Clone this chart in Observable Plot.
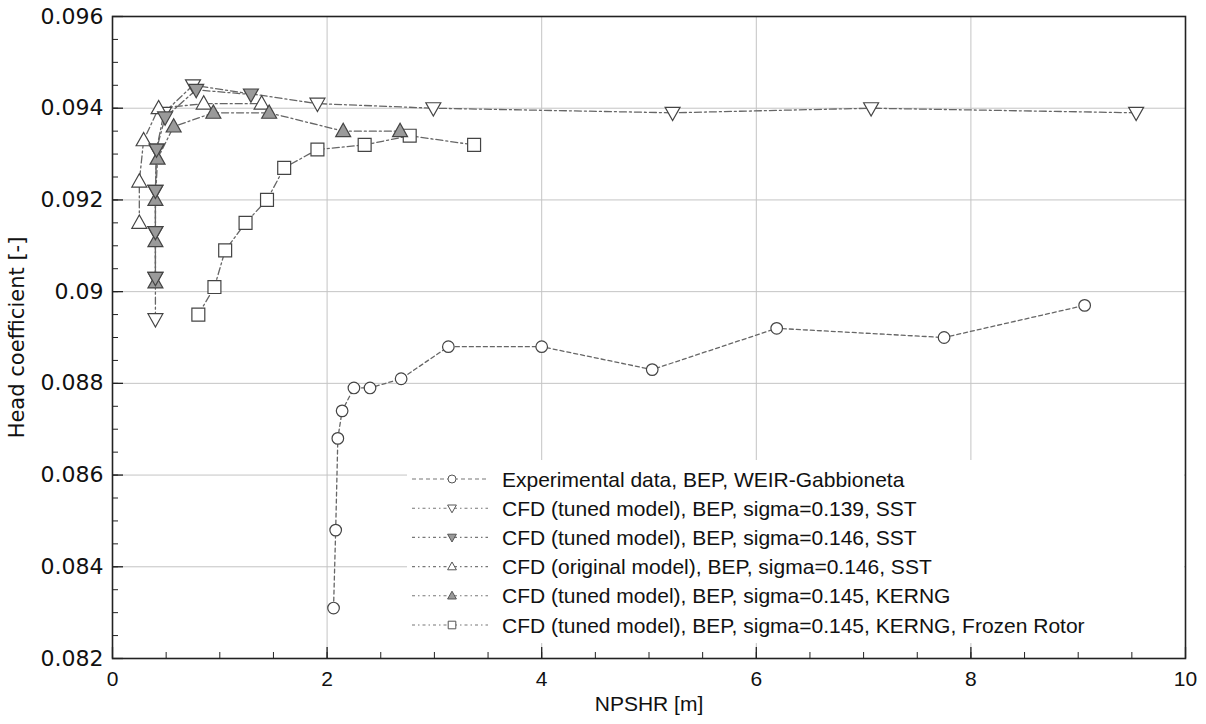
<!DOCTYPE html>
<html>
<head>
<meta charset="utf-8">
<script src="https://cdn.jsdelivr.net/npm/d3@7"></script>
<script src="https://cdn.jsdelivr.net/npm/@observablehq/plot@0.6"></script>
<style>
  html, body { margin: 0; padding: 0; background: #fff; }
  #chart { position: relative; width: 1206px; height: 724px; }
</style>
</head>
<body>
<div id="chart"></div>
<script>
// ---- data ----
const seriesNames = [
  "Experimental data, BEP, WEIR-Gabbioneta",
  "CFD (tuned model), BEP, sigma=0.139, SST",
  "CFD (tuned model), BEP, sigma=0.146, SST",
  "CFD (original model), BEP, sigma=0.146, SST",
  "CFD (tuned model), BEP, sigma=0.145, KERNG",
  "CFD (tuned model), BEP, sigma=0.145, KERNG, Frozen Rotor"
];
const expX = [2.06, 2.08, 2.10, 2.14, 2.25, 2.40, 2.69, 3.13, 4.00, 5.03, 6.19, 7.75, 9.06];
const expY = [0.0831, 0.0848, 0.0868, 0.0874, 0.0879, 0.0879, 0.0881, 0.0888, 0.0888, 0.0883, 0.0892, 0.0890, 0.0897];
const sst139X = [0.40, 0.40, 0.40, 0.40, 0.41, 0.48, 0.75, 1.91, 2.99, 5.22, 7.07, 9.54];
const sst139Y = [0.0894, 0.0903, 0.0913, 0.0922, 0.0931, 0.0939, 0.0945, 0.0941, 0.0940, 0.0939, 0.0940, 0.0939];
const sst146X = [0.40, 0.40, 0.40, 0.41, 0.49, 0.78, 1.29];
const sst146Y = [0.0903, 0.0913, 0.0922, 0.0931, 0.0938, 0.0944, 0.0943];
const origX = [0.25, 0.25, 0.29, 0.43, 0.85, 1.39];
const origY = [0.0915, 0.0924, 0.0933, 0.0940, 0.0941, 0.0941];
const kerngX = [0.40, 0.40, 0.40, 0.42, 0.57, 0.94, 1.46, 2.15, 2.68];
const kerngY = [0.0902, 0.0911, 0.0920, 0.0929, 0.0936, 0.0939, 0.0939, 0.0935, 0.0935];
const frozenX = [0.80, 0.95, 1.05, 1.24, 1.44, 1.60, 1.91, 2.35, 2.77, 3.37];
const frozenY = [0.0895, 0.0901, 0.0909, 0.0915, 0.0920, 0.0927, 0.0931, 0.0932, 0.0934, 0.0932];
const xTicks = [0, 2, 4, 6, 8, 10];
const xTickLabels = ["0", "2", "4", "6", "8", "10"];
const yTicks = [0.082, 0.084, 0.086, 0.088, 0.090, 0.092, 0.094, 0.096];
const yTickLabels = ["0.082", "0.084", "0.086", "0.088", "0.09", "0.092", "0.094", "0.096"];
const xMinor = d3.range(0, 10.001, 0.5);
const yMinor = d3.range(0.082, 0.09601, 0.0005);
const xLabel = "NPSHR [m]";
const yLabel = "Head coefficient [-]";

// ---- symbols ----
const triDown = {draw(ctx, size) { const r = Math.sqrt(size / Math.PI);
  ctx.moveTo(-r * 1.1, -r * 0.8); ctx.lineTo(r * 1.1, -r * 0.8); ctx.lineTo(0, r * 1.15); ctx.closePath(); }};
const triUp = {draw(ctx, size) { const r = Math.sqrt(size / Math.PI);
  ctx.moveTo(-r * 1.1, r * 0.8); ctx.lineTo(r * 1.1, r * 0.8); ctx.lineTo(0, -r * 1.15); ctx.closePath(); }};
const sq = {draw(ctx, size) { const r = Math.sqrt(size / Math.PI); const h = r * 0.95;
  ctx.rect(-h, -h, 2 * h, 2 * h); }};
const circ = {draw(ctx, size) { const r = Math.sqrt(size / Math.PI);
  ctx.moveTo(r, 0); ctx.arc(0, 0, r, 0, 2 * Math.PI); }};

const DASH = "4,3";
const DASHDOT = "7,3,2,3";
const series = [
  {name: seriesNames[1], xs: sst139X, ys: sst139Y, symbol: triDown, fill: "white", dash: DASHDOT, r: 6.8},
  {name: seriesNames[3], xs: origX, ys: origY, symbol: triUp, fill: "white", dash: DASHDOT, r: 6.8},
  {name: seriesNames[5], xs: frozenX, ys: frozenY, symbol: sq, fill: "white", dash: DASHDOT, r: 6.8},
  {name: seriesNames[4], xs: kerngX, ys: kerngY, symbol: triUp, fill: "#9a9a9a", dash: DASHDOT, r: 6.8},
  {name: seriesNames[2], xs: sst146X, ys: sst146Y, symbol: triDown, fill: "#9a9a9a", dash: DASHDOT, r: 6.8},
  {name: seriesNames[0], xs: expX, ys: expY, symbol: circ, fill: "white", dash: DASH, r: 5.8}
];
const tables = series.map(s => s.xs.map((x, i) => ({x, y: s.ys[i]})));

const W = 1206, H = 724, mL = 112, mR = 21, mT = 16, mB = 66;
const plotH = H - mT - mB, plotW = W - mL - mR;

const marks = [
  Plot.gridX(xTicks, {stroke: "#c4c4c4", strokeOpacity: 1, strokeWidth: 1}),
  Plot.gridY(yTicks, {stroke: "#c4c4c4", strokeOpacity: 1, strokeWidth: 1}),
  Plot.ruleX(xMinor, {insetTop: plotH - 6, stroke: "#222", strokeWidth: 1}),
  Plot.ruleX(xTicks, {insetTop: plotH - 11, stroke: "#222", strokeWidth: 1.3}),
  Plot.ruleY(yMinor, {insetRight: plotW - 6, stroke: "#222", strokeWidth: 1}),
  Plot.ruleY(yTicks, {insetRight: plotW - 11, stroke: "#222", strokeWidth: 1.3}),
  Plot.axisX(xTicks, {tickSize: 0, tickPadding: 13, fontSize: 21, fontFamily: "Liberation Sans, Arial, sans-serif",
    tickFormat: d => xTickLabels[xTicks.indexOf(d)], label: null, color: "#111"}),
  Plot.axisY(yTicks, {tickSize: 0, tickPadding: 9, fontSize: 22, fontFamily: "DejaVu Sans, sans-serif",
    tickFormat: d => yTickLabels[yTicks.findIndex(t => Math.abs(t - d) < 1e-9)], label: null, color: "#111"}),
  Plot.text([xLabel], {frameAnchor: "bottom", dy: 52, fontSize: 21, fontFamily: "Liberation Sans, Arial, sans-serif", fill: "#111", textAnchor: "middle"}),
  Plot.text([yLabel], {frameAnchor: "left", dx: -95, rotate: -90, textAnchor: "middle", fontSize: 21, fontFamily: "DejaVu Sans, sans-serif", fill: "#111"})
];
series.forEach((s, i) => {
  marks.push(Plot.line(tables[i], {x: "x", y: "y", stroke: "#666", strokeWidth: 1.3, strokeDasharray: s.dash, curve: "linear"}));
});
series.forEach((s, i) => {
  marks.push(Plot.dot(tables[i], {x: "x", y: "y", symbol: s.symbol, r: s.r, fill: s.fill, stroke: "#444", strokeWidth: 1.2}));
});
marks.push(Plot.frame({stroke: "#222", strokeWidth: 1.6}));

const plot = Plot.plot({
  width: W, height: H, marginLeft: mL, marginRight: mR, marginTop: mT, marginBottom: mB,
  x: {domain: [0, 10]},
  y: {domain: [0.082, 0.096]},
  style: {background: "white", overflow: "visible"},
  marks
});
document.getElementById("chart").appendChild(plot);

// ---- legend (inside the plot, lower right) ----
const svg = d3.select(plot);
const legStyle = [
  {symbol: circ, fill: "white", dash: "4,3"},
  {symbol: triDown, fill: "white", dash: "3,3,1.5,3"},
  {symbol: triDown, fill: "#9a9a9a", dash: "3,3,1.5,3"},
  {symbol: triUp, fill: "white", dash: "3,3,1.5,3"},
  {symbol: triUp, fill: "#9a9a9a", dash: "3,3,1.5,3"},
  {symbol: sq, fill: "white", dash: "3,3,1.5,3"}
];
const lg = svg.append("g").attr("text-anchor", "start");
lg.append("rect").attr("x", 407).attr("y", 460).attr("width", 1184 - 407).attr("height", 183).attr("fill", "white");
const row0 = 479, rowH = 29.2;
seriesNames.forEach((name, i) => {
  const y = row0 + i * rowH;
  const st = legStyle[i];
  lg.append("line").attr("x1", 412).attr("x2", 488).attr("y1", y).attr("y2", y)
    .attr("stroke", "#777").attr("stroke-width", 1.1).attr("stroke-dasharray", st.dash);
  lg.append("path").attr("transform", `translate(452,${y})`)
    .attr("d", d3.symbol().type(st.symbol).size(Math.PI * 4 * 4)())
    .attr("fill", st.fill).attr("stroke", "#555").attr("stroke-width", 1);
  lg.append("text").attr("x", 502).attr("y", y).attr("dy", "0.36em").attr("text-anchor", "start")
    .attr("font-family", "Liberation Sans, Arial, sans-serif").attr("font-size", 21).attr("fill", "#111")
    .text(name);
});
</script>
</body>
</html>
